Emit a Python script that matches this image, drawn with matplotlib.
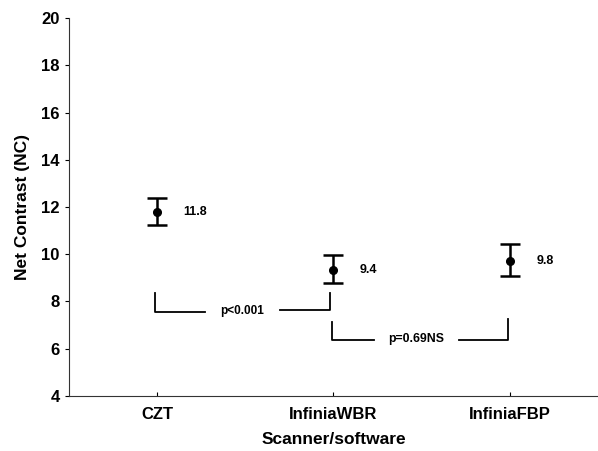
import matplotlib
matplotlib.use("Agg")
import matplotlib.pyplot as plt
import numpy as np

plt.rcParams['font.family'] = ['Liberation Sans', 'DejaVu Sans']

# data
groups = ["CZT", "InfiniaWBR", "InfiniaFBP"]
means = [11.8, 9.35, 9.72]
lower = [11.22, 8.78, 9.06]
upper = [12.38, 9.95, 10.44]
mean_labels = ["11.8", "9.4", "9.8"]

yticks = [4, 6, 8, 10, 12, 14, 16, 18, 20]

fig = plt.figure(figsize=(5.98, 4.51), dpi=100)
ax = fig.add_axes([0.115, 0.122, 0.885, 0.838])

x = np.arange(len(groups))
m = np.array(means)
err = [m - np.array(lower), np.array(upper) - m]
ax.errorbar(x, m, yerr=err, fmt='o', color='black', ms=5.5, elinewidth=1.8,
            capsize=7, capthick=1.8)

for i in range(len(groups)):
    ax.text(x[i] + 0.15, m[i], mean_labels[i], fontsize=9, fontweight='bold',
            va='center', ha='left')

# significance brackets
ax.plot([-0.01, -0.01, 0.27], [8.36, 7.56, 7.56], color='black', lw=1.3)
ax.plot([0.70, 0.98, 0.98], [7.64, 7.64, 8.38], color='black', lw=1.3)
ax.text(0.485, 7.6, "p<0.001", fontsize=8.5, fontweight='bold', ha='center', va='center')

ax.plot([0.99, 0.99, 1.23], [7.14, 6.37, 6.37], color='black', lw=1.3)
ax.plot([1.71, 1.99, 1.99], [6.37, 6.37, 7.26], color='black', lw=1.3)
ax.text(1.47, 6.4, "p=0.69NS", fontsize=8.8, fontweight='bold', ha='center', va='center')

ax.set_xlim(-0.5, 2.5)
ax.set_ylim(4, 20)
ax.set_xticks(x)
ax.set_xticklabels(groups, fontsize=12, fontweight='bold')
ax.set_yticks(yticks)
ax.set_yticklabels([str(v) for v in yticks], fontsize=12, fontweight='bold')
ax.tick_params(axis='x', direction='in', length=3, pad=8)
ax.tick_params(axis='y', direction='out', length=3)

ax.spines['top'].set_visible(False)
ax.spines['right'].set_visible(False)
ax.spines['left'].set_color('#333333')
ax.spines['bottom'].set_color('#333333')

ax.set_xlabel("Scanner/software", fontsize=12.5, fontweight='bold', labelpad=7)
ax.set_ylabel("Net Contrast (NC)", fontsize=12.5, fontweight='bold', labelpad=8)

plt.savefig("out.png", dpi=100)
